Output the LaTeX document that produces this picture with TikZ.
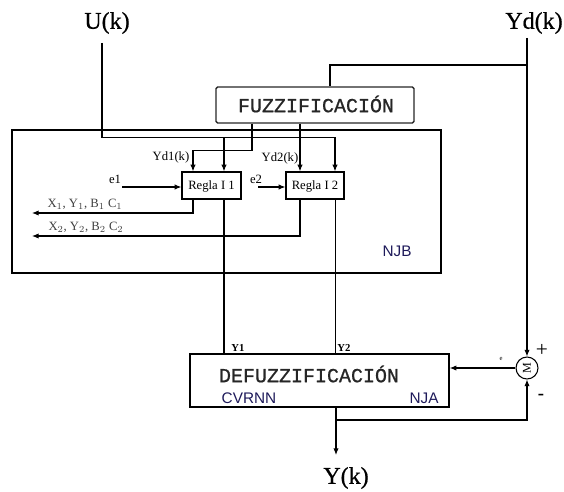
\documentclass[tikz,border=0pt]{standalone}
\usepackage{fontspec}
\setmainfont{Liberation Serif}
\newfontfamily\monof[FakeBold=0.8]{Liberation Mono}
\newfontfamily\arialf{Liberation Sans}
\newfontfamily\bigf[FakeBold=0.6]{Liberation Serif}
\usetikzlibrary{arrows.meta,calc}
\definecolor{navy}{RGB}{30,26,90}
\begin{document}
\begin{tikzpicture}[x=0.75pt,y=-0.75pt,
  ln/.style={line width=0.8pt},
  arr/.style={line width=0.8pt,-{Latex[length=5pt,width=4pt]}},
  bigbox/.style={draw,line width=1.1pt,inner sep=0pt},
  regbox/.style={draw,line width=0.9pt,inner sep=0pt,minimum height=20.25pt},
  big/.style={font=\bigf\fontsize{18}{18}\selectfont,inner sep=0pt},
  small/.style={font=\fontsize{9.5}{10}\selectfont,inner sep=0pt},
  tiny/.style={font=\fontsize{8}{8}\selectfont\bfseries,inner sep=0pt},
  blue/.style={font=\arialf\fontsize{11.5}{12}\selectfont,text=navy,inner sep=0pt},
  mono/.style={font=\monof\fontsize{15}{15}\selectfont,inner sep=0pt,text=black!85}]
\useasboundingbox (0,0) rectangle (564,492);

% labels
\node[big] (uk) at (107,23) {U(k)};
\node[big] (ydk) at (534,23) {Yd(k)};
\node[big] (yk) at (346,478) {Y(k)};

% boxes
\node[bigbox,draw=black!85,rounded corners=1.2pt,minimum width=148.5pt,minimum height=27pt] (fuzz) at (315,105) {};
\node[mono] (fuzzt) at (316,104) {FUZZIFICACIÓN};
\node[bigbox,minimum width=321.75pt,minimum height=107.25pt] (njb) at (226.5,201.5) {};
\node[blue] (njbt) at (397,251) {NJB};
\node[regbox,minimum width=44.25pt] (r1) at (211.5,185.5) {};
\node[small] (r1t) at (211.5,186) {Regla I 1};
\node[regbox,minimum width=43.5pt] (r2) at (315,185.5) {};
\node[small] (r2t) at (315,186) {Regla I 2};
\node[bigbox,minimum width=194.25pt,minimum height=39.75pt] (defz) at (319.5,380.5) {};
\node[mono] (defzt) at (309,374) {DEFUZZIFICACIÓN};
\node[blue] (cvr) at (249,398) {CVRNN};
\node[blue] (nja) at (424,398) {NJA};
\node[draw,circle,line width=0.8pt,inner sep=0pt,minimum size=16.5pt] (sum) at (527,368) {};
\node[rotate=90,font=\fontsize{9}{9}\selectfont,inner sep=0pt] (sumt) at (527,368) {M};
\node[font=\fontsize{16}{16}\selectfont,inner sep=0pt] (plus) at (542,350) {+};
\node[font=\fontsize{14}{14}\selectfont\bfseries,inner sep=0pt] (minus) at (541,397) {-};
\node[font=\fontsize{5}{5}\selectfont,inner sep=0pt] (emark) at (501,359) {e};

% small labels
\node[small] (yd1) at (171,157) {Yd1(k)};
\node[small] (yd2) at (280,158) {Yd2(k)};
\node[small] (e1) at (115,179) {e1};
\node[small] (e2) at (256,179) {e2};
\node[small,text=black!75] (x1) at (85,204) {X$_1$, Y$_1$, B$_1$ C$_1$};
\node[small,text=black!75] (x2) at (86,227) {X$_2$, Y$_2$, B$_2$ C$_2$};
\node[tiny] (y1) at (238,348) {Y1};
\node[tiny] (y2) at (344,348) {Y2};

% coordinates
\coordinate (u0) at (102,43);
\coordinate (yd0) at (527,38);
\coordinate (ydj) at (527,65);
\coordinate (o1) at (32,213);
\coordinate (o2) at (32,236);
\coordinate (e1s) at (122,187);
\coordinate (e2s) at (258,187);
\coordinate (r1b) at ($(r1.south)+(12.5,0)$);
\coordinate (r2b) at ($(r2.south)+(20.5,0)$);
\coordinate (dout) at ($(defz.south)+(16.5,0)$);
\coordinate (yend) at (336,455);
\coordinate (fb) at (336,420);

% U(k) distribution
\draw[arr] (u0) |- ($(r2.north)+(20,-34)$) -- ($(r2.north)+(20,0)$);
\draw[arr] ($(r1.north)+(12.5,-34)$) -- ($(r1.north)+(12.5,0)$);
% Fuzzification outputs
\draw[arr] ($(fuzz.south)+(-63,0)$) -- ++(0,27) -| ($(r1.north)+(-18.5,0)$);
\draw[arr] ($(fuzz.south)+(-15,0)$) -- ($(r2.north)+(-15,0)$);
% Yd(k)
\draw[arr] (yd0) -- (sum.north);
\draw[ln] (ydj) -| ($(fuzz.north)+(15,0)$);
% e inputs
\draw[arr] (e1s) -- (e1s -| r1.west);
\draw[arr] (e2s) -- (e2s -| r2.west);
% rule outputs
\draw[arr] ($(r1.south)+(-18.5,0)$) |- (o1);
\draw[arr] ($(r2.south)+(-15,0)$) |- (o2);
\draw[ln] (r1b) -- (r1b |- defz.north);
\draw[ln] (r2b) -- (r2b |- defz.north);
% defuzz output and feedback
\draw[arr] (dout) -- (yend);
\draw[arr] (fb) -| (sum.south);
\draw[arr] (sum.west) -- (sum.west -| defz.east);
\end{tikzpicture}
\end{document}
